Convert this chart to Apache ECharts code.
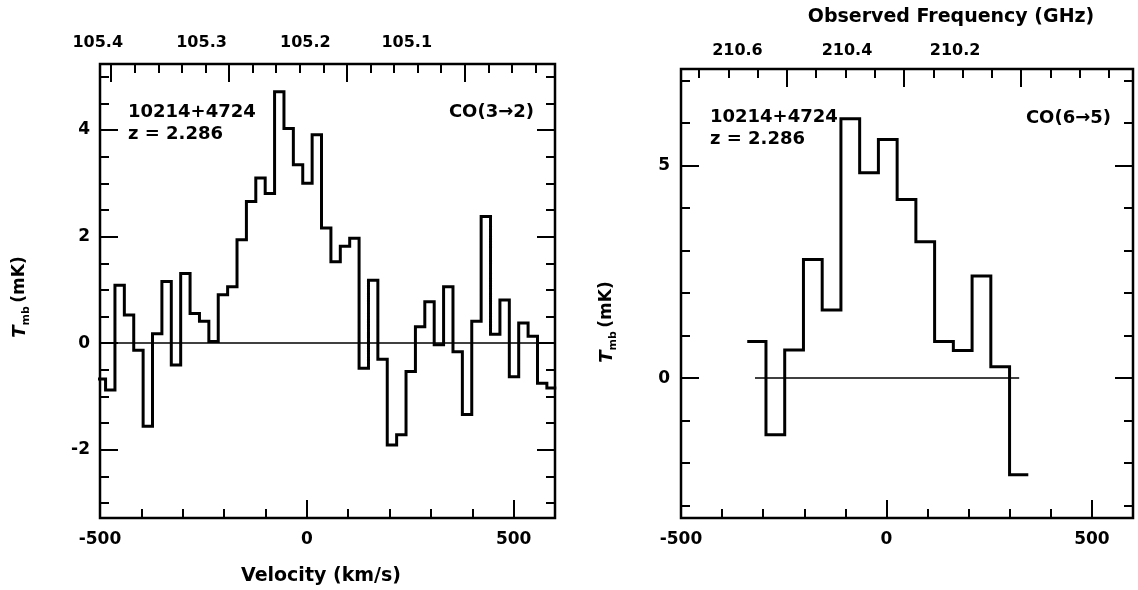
<!DOCTYPE html>
<html>
<head>
<meta charset="utf-8">
<script src="https://cdn.jsdelivr.net/npm/echarts@6/dist/echarts.min.js"></script>
<style>html,body{margin:0;padding:0;background:#fff}#c{width:1138px;height:590px}</style>
</head>
<body>
<div id="c"></div>
<script>
// ---------------- DATA ----------------
// Left panel: CO(3->2), channel centres (km/s) and Tmb (mK)
const leftVel = [-497.9,-475.2,-452.5,-429.8,-407.1,-384.4,-361.7,-339.0,-316.3,-293.6,-270.9,-248.2,-225.5,-202.8,-180.1,-157.4,-134.7,-112.0,-89.3,-66.6,-43.9,-21.2,1.5,24.2,46.9,69.6,92.3,115.0,137.7,160.4,183.1,205.8,228.5,251.2,273.9,296.6,319.3,342.0,364.7,387.4,410.1,432.8,455.5,478.2,500.9,523.6,546.3,569.0,591.7];
const leftT = [-0.67,-0.88,1.09,0.53,-0.13,-1.56,0.18,1.16,-0.41,1.31,0.56,0.41,0.03,0.91,1.06,1.94,2.66,3.10,2.81,4.72,4.03,3.35,3.00,3.91,2.16,1.53,1.82,1.97,-0.47,1.18,-0.30,-1.91,-1.72,-0.53,0.31,0.78,-0.03,1.06,-0.16,-1.34,0.41,2.38,0.17,0.81,-0.63,0.38,0.13,-0.75,-0.84];
const leftChanWidth = 22.7;
// Right panel: CO(6->5)
const rightVel = [-316,-270.4,-224.8,-179.2,-133.6,-88,-42.4,3.2,48.8,94.4,140,185.6,231.2,276.8,322.4];
const rightT = [0.86,-1.33,0.66,2.79,1.60,6.10,4.83,5.61,4.20,3.21,0.86,0.65,2.40,0.27,-2.27];
const rightChanWidth = 45.6;
const rightBaseline = [-320, 323];

// axes / ticks
const velRange = [-500, 600];
const velMajor = [-500, 0, 500];
const velMinor = [-400, -300, -200, -100, 100, 200, 300, 400];
const leftYRange = [-3.28, 5.24];
const leftYMajor = [-2, 0, 2, 4];
const leftYMinor = [-3, -2.5, -1.5, -1, -0.5, 0.5, 1, 1.5, 2.5, 3, 3.5, 4.5, 5];
const rightYRange = [-3.29, 7.27];
const rightYMajor = [0, 5];
const rightYMinor = [-3, -2, -1, 1, 2, 3, 4, 6, 7];
// top frequency axes (GHz)
const leftNu0 = 105.234;
const leftFreqMajor = [105.4, 105.3, 105.2, 105.1];
const leftFreqMinor = [105.04,105.06,105.08,105.12,105.14,105.16,105.18,105.22,105.24,105.26,105.28,105.32,105.34,105.36,105.38];
const rightNu0 = 210.43;
const rightFreqMajor = [210.6, 210.4, 210.2];
const rightFreqMinor = [210.05,210.1,210.15,210.25,210.3,210.35,210.45,210.5,210.55,210.65,210.7,210.75];
const C_KMS = 299792.458;

// ---------------- STYLE ----------------
const FONT = '"DejaVu Sans", sans-serif';
const BIG = 18, MIN = 9;
const leftTopShift = [27, 55, 83, 116];   // label padding (px) as in the original print
const rightTopShift = [99, 114, 132];

const f2v = (f, nu0) => C_KMS * (1 - f / nu0);

function xAx(g, pos, ticks, len, labels, lab) {
  return {
    type: 'value', gridIndex: g, position: pos, min: velRange[0], max: velRange[1],
    axisLine: {show: false, onZero: false}, splitLine: {show: false},
    axisTick: {show: true, inside: true, length: len, customValues: ticks, lineStyle: {color: '#000', width: 2}},
    axisLabel: labels ? Object.assign({show: true, customValues: labels, color: '#000', fontFamily: FONT, fontWeight: 'bold', fontSize: 17, margin: 13}, lab || {}) : {show: false}
  };
}
function yAx(g, pos, range, ticks, len, labels, lab) {
  return {
    type: 'value', gridIndex: g, position: pos, min: range[0], max: range[1],
    axisLine: {show: false, onZero: false}, splitLine: {show: false},
    axisTick: {show: true, inside: true, length: len, customValues: ticks, lineStyle: {color: '#000', width: 2}},
    axisLabel: labels ? Object.assign({show: true, customValues: labels, color: '#000', fontFamily: FONT, fontWeight: 'bold', fontSize: 17, margin: 10}, lab || {}) : {show: false}
  };
}
function freqLabel(nu0, freqs, shifts, margin) {
  const rich = {};
  shifts.forEach((s, i) => { rich['o' + i] = {padding: [0, s, 0, 0], fontFamily: FONT, fontWeight: 'bold', fontSize: 16, color: '#000'}; });
  return {
    margin: margin,
    formatter: (v) => {
      const f = nu0 * (1 - v / C_KMS);
      let i = 0, best = 1e9;
      freqs.forEach((q, k) => { const d = Math.abs(q - f); if (d < best) { best = d; i = k; } });
      return '{o' + i + '|' + freqs[i].toFixed(1) + '}';
    },
    rich: rich
  };
}
function steps(vel, T, w) {
  const pts = vel.map((v, i) => [v - w / 2, T[i]]);
  pts.push([vel[vel.length - 1] + w / 2, T[T.length - 1]]);
  return pts;
}

const chart = echarts.init(document.getElementById('c'), null, {renderer: 'canvas'});
const tmb = (x, y) => ({
  type: 'text', x: x, y: y, rotation: Math.PI / 2,
  style: {
    text: '{t|T}{s|mb} {n|(mK)}', fill: '#000', align: 'center', textAlign: 'center', verticalAlign: 'middle', textVerticalAlign: 'middle',
    rich: {
      t: {fontFamily: FONT, fontWeight: 'bold', fontStyle: 'italic', fontSize: 18, lineHeight: 24, verticalAlign: 'middle'},
      s: {fontFamily: FONT, fontWeight: 'bold', fontSize: 11, lineHeight: 24, verticalAlign: 'bottom'},
      n: {fontFamily: FONT, fontWeight: 'bold', fontSize: 17, lineHeight: 24, verticalAlign: 'middle'}
    }
  }
});
const txt = (s, x, y, al, size) => ({
  type: 'text', x: x, y: y,
  style: {text: s, fill: '#000', font: 'bold ' + (size || 18) + 'px ' + FONT, align: al, textAlign: al, verticalAlign: 'middle', textVerticalAlign: 'middle'}
});

chart.setOption({
  animation: false,
  backgroundColor: '#fff',
  grid: [
    {left: 100, top: 64, width: 455, height: 454, show: true, borderColor: '#000', borderWidth: 2.5, backgroundColor: 'transparent'},
    {left: 681, top: 69, width: 452, height: 449, show: true, borderColor: '#000', borderWidth: 2.5, backgroundColor: 'transparent'}
  ],
  xAxis: [
    xAx(0, 'bottom', velMajor, BIG, velMajor),
    xAx(0, 'bottom', velMinor, MIN, null),
    xAx(0, 'top', leftFreqMajor.map(f => f2v(f, leftNu0)), BIG, leftFreqMajor.map(f => f2v(f, leftNu0)), freqLabel(leftNu0, leftFreqMajor, leftTopShift, 13)),
    xAx(0, 'top', leftFreqMinor.map(f => f2v(f, leftNu0)), MIN, null),
    xAx(1, 'bottom', velMajor, BIG, velMajor),
    xAx(1, 'bottom', velMinor, MIN, null),
    xAx(1, 'top', rightFreqMajor.map(f => f2v(f, rightNu0)), BIG, rightFreqMajor.map(f => f2v(f, rightNu0)), freqLabel(rightNu0, rightFreqMajor, rightTopShift, 10)),
    xAx(1, 'top', rightFreqMinor.map(f => f2v(f, rightNu0)), MIN, null)
  ],
  yAxis: [
    yAx(0, 'left', leftYRange, leftYMajor, BIG, leftYMajor),
    yAx(0, 'left', leftYRange, leftYMinor, MIN, null),
    yAx(0, 'right', leftYRange, leftYMajor, BIG, null),
    yAx(0, 'right', leftYRange, leftYMinor, MIN, null),
    yAx(1, 'left', rightYRange, rightYMajor, BIG, rightYMajor, {margin: 11}),
    yAx(1, 'left', rightYRange, rightYMinor, MIN, null),
    yAx(1, 'right', rightYRange, rightYMajor, BIG, null),
    yAx(1, 'right', rightYRange, rightYMinor, MIN, null)
  ],
  series: [
    {
      type: 'line', xAxisIndex: 0, yAxisIndex: 0, step: 'end', symbol: 'none', clip: true,
      data: steps(leftVel, leftT, leftChanWidth),
      lineStyle: {color: '#000', width: 3, join: 'miter'},
      markLine: {silent: true, symbol: 'none', label: {show: false}, lineStyle: {color: '#000', width: 1.5, type: 'solid'}, data: [{yAxis: 0}]}
    },
    {
      type: 'line', xAxisIndex: 4, yAxisIndex: 4, step: 'end', symbol: 'none', clip: true,
      data: steps(rightVel, rightT, rightChanWidth),
      lineStyle: {color: '#000', width: 3, join: 'miter'}
    },
    {
      type: 'line', xAxisIndex: 4, yAxisIndex: 4, symbol: 'none', silent: true,
      data: rightBaseline.map(v => [v, 0]),
      lineStyle: {color: '#000', width: 1.5}
    }
  ],
  graphic: [
    txt('10214+4724', 128, 112, 'left'),
    txt('z = 2.286', 128, 134, 'left'),
    txt('CO(3\u21922)', 534, 112, 'right'),
    txt('10214+4724', 710, 117, 'left'),
    txt('z = 2.286', 710, 139, 'left'),
    txt('CO(6\u21925)', 1111, 118, 'right'),
    txt('Velocity (km/s)', 321, 576, 'center', 19),
    txt('Observed Frequency (GHz)', 951, 17, 'center', 19),
    tmb(20, 297),
    tmb(607, 322)
  ]
});
</script>
</body>
</html>
